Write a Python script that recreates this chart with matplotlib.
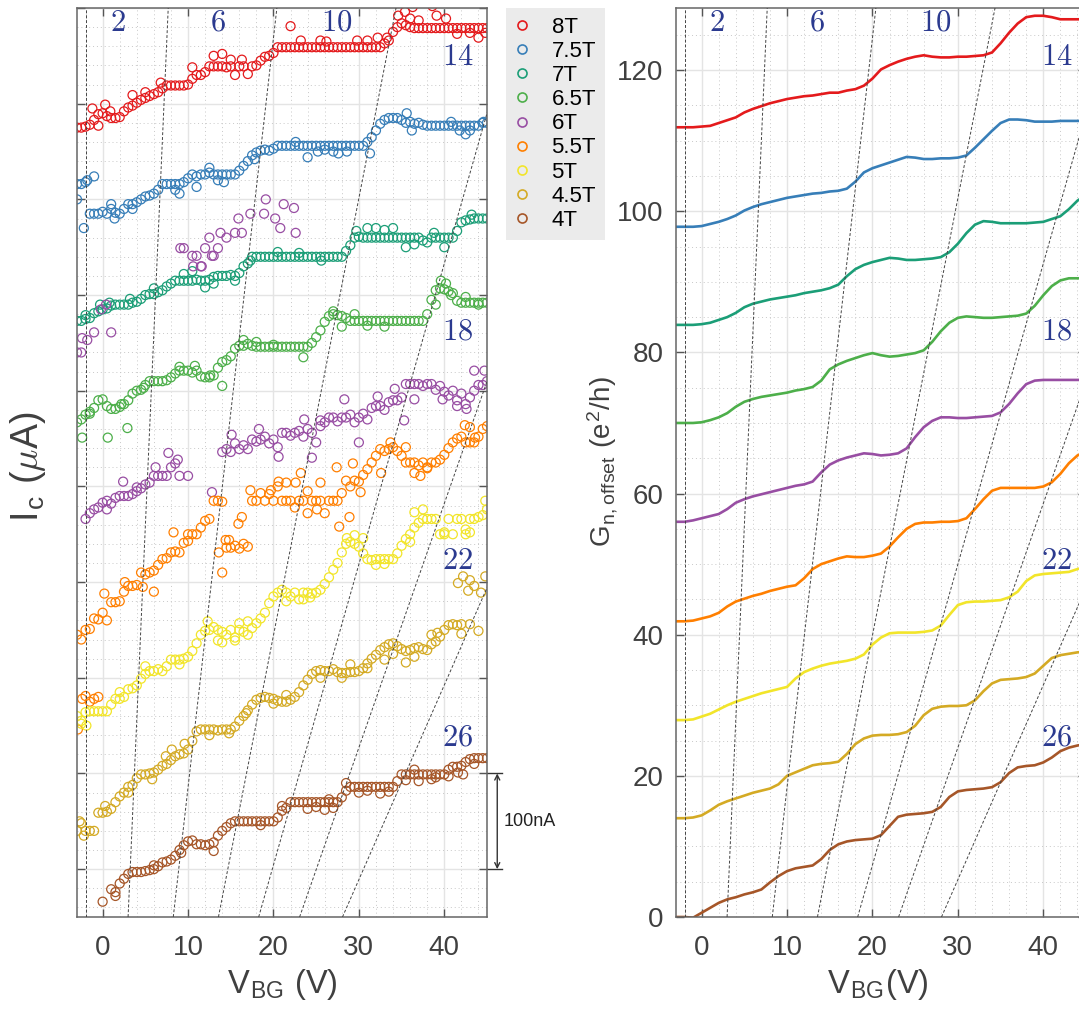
import numpy as np
import matplotlib
matplotlib.use("Agg")
import matplotlib.pyplot as plt
from matplotlib.lines import Line2D
from matplotlib.ticker import MultipleLocator
from matplotlib.transforms import blended_transform_factory

plt.rcParams['font.family'] = ['Liberation Sans', 'DejaVu Sans']
plt.rcParams['mathtext.fontset'] = 'cm'

fields = ['8T', '7.5T', '7T', '6.5T', '6T', '5.5T', '5T', '4.5T', '4T']
colors = ['#e41a1c', '#377eb8', '#1b9e77', '#4daf4a', '#984ea3',
          '#ff7f00', '#f2e52a', '#d4aa24', '#a65628']

# ---- critical current, sampled every 0.5 V from -3 V to 45 V (uA) ----
vbg_ic = np.arange(-3, 45.01, 0.5)
nan = np.nan

ic_8T = [1.775, 1.775, 1.776, 1.778, 1.783, 1.789, 1.790, 1.787, 1.785, 1.785,
         1.786, 1.792, 1.796, 1.798, 1.801, 1.804, 1.806, 1.808, 1.810, 1.812,
         1.816, 1.819, 1.819, 1.819, 1.819, 1.819, 1.820, 1.826, 1.830, 1.830,
         1.833, 1.839, 1.839, 1.839, 1.839, 1.838, 1.839, 1.830, 1.839, 1.839,
         1.831, 1.839, 1.840, 1.845, 1.849, 1.850, 1.853, 1.859, 1.859, 1.859,
         1.859, 1.859, 1.859, 1.859, 1.859, 1.859, 1.859, 1.859, 1.859, 1.859,
         1.859, 1.859, 1.859, 1.859, 1.859, 1.859, 1.859, 1.859, 1.859, 1.859,
         1.859, 1.859, 1.863, 1.866, 1.875, 1.880, 1.884, 1.882, 1.880, 1.879,
         1.879, 1.879, 1.879, 1.879, 1.879, 1.879, 1.879, 1.879, 1.879, 1.879,
         1.879, 1.879, 1.879, 1.879, 1.879, 1.879, 1.879]
ic_7p5T = [1.716, 1.716, 1.718, 1.685, 1.685, 1.685, 1.687, 1.685, 1.690, 1.686,
           1.685, 1.690, 1.695, 1.695, 1.697, 1.700, 1.703, 1.704, 1.706, 1.710,
           1.716, 1.716, 1.716, 1.716, 1.716, 1.718, 1.722, 1.726, 1.724, 1.726,
           1.726, 1.728, 1.726, 1.726, 1.726, 1.726, 1.726, 1.726, 1.730, 1.735,
           1.740, 1.746, 1.749, 1.751, 1.752, 1.751, 1.753, 1.756, 1.756, 1.756,
           1.756, 1.756, 1.756, 1.756, 1.756, 1.756, 1.756, 1.756, 1.756, 1.756,
           1.756, 1.756, 1.756, 1.756, 1.756, 1.756, 1.756, 1.756, 1.760, 1.765,
           1.772, 1.779, 1.783, 1.785, 1.785, 1.785, 1.783, 1.780, 1.781, 1.779,
           1.780, 1.778, 1.777, 1.777, 1.777, 1.777, 1.777, 1.777, 1.777, 1.777,
           1.777, 1.777, 1.777, 1.777, 1.777, 1.780, 1.780]
ic_7T = [1.573, 1.573, 1.575, 1.576, 1.581, 1.583, 1.585, 1.586, 1.589, 1.590,
         1.590, 1.590, 1.590, 1.592, 1.593, 1.596, 1.600, 1.601, 1.601, 1.603,
         1.605, 1.609, 1.612, 1.615, 1.615, 1.615, 1.615, 1.615, 1.616, 1.615,
         1.615, 1.616, 1.619, 1.620, 1.620, 1.620, 1.621, 1.620, 1.623, 1.630,
         1.633, 1.640, 1.640, 1.640, 1.640, 1.640, 1.640, 1.640, 1.640, 1.640,
         1.640, 1.640, 1.640, 1.640, 1.640, 1.640, 1.640, 1.640, 1.640, 1.640,
         1.640, 1.640, 1.640, 1.646, 1.652, 1.660, 1.661, 1.660, 1.660, 1.660,
         1.660, 1.660, 1.660, 1.660, 1.660, 1.660, 1.660, 1.660, 1.660, 1.660,
         1.660, 1.657, 1.655, 1.660, 1.660, 1.660, 1.660, 1.660, 1.660, 1.667,
         1.676, 1.678, 1.679, 1.680, 1.680, 1.680, 1.680]
ic_6p5T = [1.467, 1.470, 1.475, 1.476, 1.482, 1.490, 1.491, 1.484, 1.481, 1.481,
           1.483, 1.486, 1.490, 1.497, 1.500, 1.501, 1.506, 1.510, 1.510, 1.510,
           1.510, 1.511, 1.514, 1.518, 1.521, 1.521, 1.521, 1.519, 1.521, 1.515,
           1.514, 1.514, 1.516, 1.524, 1.530, 1.532, 1.536, 1.544, 1.547, 1.547,
           1.549, 1.547, 1.546, 1.546, 1.546, 1.546, 1.546, 1.546, 1.546, 1.546,
           1.546, 1.546, 1.546, 1.546, 1.546, 1.550, 1.556, 1.563, 1.572, 1.578,
           1.580, 1.579, 1.578, 1.576, 1.573, 1.573, 1.573, 1.573, 1.573, 1.573,
           1.573, 1.573, 1.573, 1.573, 1.573, 1.573, 1.573, 1.573, 1.573, 1.573,
           1.573, 1.573, 1.580, 1.595, 1.605, 1.607, 1.606, 1.604, 1.602, 1.594,
           1.592, 1.592, 1.592, 1.592, 1.592, 1.592, 1.592]
ic_6T = [1.540, 1.540, 1.366, 1.372, 1.376, 1.378, 1.383, 1.385, 1.382, 1.388,
         1.390, 1.390, 1.390, 1.392, 1.395, 1.398, 1.402, 1.404, 1.411, 1.411,
         1.411, 1.411, 1.420, 1.424, 1.411, 1.649, 1.411, 1.641, 1.641, 1.630,
         1.649, 1.660, 1.641, 1.649, 1.436, 1.439, 1.436, 1.445, 1.439, 1.443,
         1.439, 1.449, 1.447, 1.449, 1.452, 1.445, 1.449, 1.441, 1.456, 1.456,
         1.453, 1.456, 1.458, 1.452, 1.460, 1.456, 1.446, 1.463, 1.467, 1.472,
         1.472, 1.468, 1.472, 1.472, 1.475, 1.467, 1.472, 1.476, 1.470, 1.482,
         1.484, 1.484, 1.480, 1.488, 1.490, 1.490, 1.493, 1.507, 1.507, 1.507,
         1.507, 1.505, 1.507, 1.507, 1.501, 1.505, 1.499, 1.495, 1.500, 1.490,
         1.497, 1.486, 1.493, 1.500, 1.506, 1.506, 1.510]
ic_5p5T = [1.245, 1.240, 1.250, 1.251, 1.262, 1.261, 1.268, 1.260, 1.279, 1.279,
           1.280, 1.290, 1.296, 1.296, 1.297, 1.310, 1.308, 1.310, 1.312, 1.318,
           1.324, 1.325, 1.331, 1.332, 1.331, 1.341, 1.350, 1.350, 1.350, 1.357,
           1.364, 1.366, 1.385, 1.385, 1.384, 1.336, 1.336, 1.338, 1.335, 1.340,
           1.337, 1.385, 1.385, 1.393, 1.385, 1.392, 1.385, 1.400, 1.385, 1.385,
           1.385, 1.378, 1.385, 1.385, 1.395, 1.385, 1.385, 1.385, 1.372, 1.385,
           1.385, 1.385, 1.393, 1.406, 1.400, 1.406, 1.405, 1.412, 1.418, 1.425,
           1.432, 1.439, 1.437, 1.439, 1.441, 1.437, 1.432, 1.425, 1.425, 1.425,
           1.422, 1.425, 1.420, 1.425, 1.425, 1.428, 1.433, 1.440, 1.446, 1.450,
           1.452, 1.446, 1.446, 1.446, 1.452, 1.460, 1.463]
ic_5T = [1.160, 1.152, 1.164, 1.165, 1.165, 1.165, 1.165, 1.165, 1.172, 1.178,
         1.178, 1.180, 1.188, 1.189, 1.192, 1.199, 1.204, 1.207, 1.207, 1.209,
         1.207, 1.212, 1.219, 1.219, 1.219, 1.220, 1.222, 1.228, 1.236, 1.245,
         1.249, 1.250, 1.253, 1.250, 1.248, 1.245, 1.250, 1.242, 1.250, 1.248,
         1.245, 1.252, 1.257, 1.262, 1.268, 1.278, 1.285, 1.289, 1.292, 1.289,
         1.285, 1.289, 1.282, 1.289, 1.289, 1.288, 1.289, 1.292, 1.298, 1.305,
         1.313, 1.320, 1.331, 1.340, 1.342, 1.340, 1.337, 1.330, 1.324, 1.323,
         1.324, 1.324, 1.324, 1.324, 1.324, 1.330, 1.338, 1.345, 1.350, 1.357,
         1.362, 1.366, 1.366, 1.366, 1.366, 1.350, 1.350, 1.366, 1.350, 1.366,
         1.366, 1.350, 1.366, 1.366, 1.368, 1.370, 1.376]
ic_4p5T = [1.040, 1.048, 1.040, 1.040, 1.040, 1.059, 1.059, 1.060, 1.063, 1.070,
           1.076, 1.080, 1.080, 1.088, 1.095, 1.099, 1.099, 1.100, 1.101, 1.104,
           1.108, 1.110, 1.114, 1.118, 1.120, 1.121, 1.125, 1.134, 1.144, 1.146,
           1.146, 1.146, 1.146, 1.145, 1.146, 1.146, 1.146, 1.149, 1.155, 1.160,
           1.166, 1.172, 1.177, 1.179, 1.180, 1.179, 1.178, 1.176, 1.175, 1.175,
           1.177, 1.180, 1.185, 1.192, 1.198, 1.204, 1.207, 1.208, 1.207, 1.207,
           1.209, 1.206, 1.205, 1.205, 1.206, 1.206, 1.207, 1.210, 1.215, 1.220,
           1.224, 1.229, 1.232, 1.235, 1.236, 1.233, 1.230, 1.228, 1.229, 1.231,
           1.232, 1.230, 1.229, 1.235, 1.238, 1.243, 1.250, 1.255, 1.256, 1.255,
           1.256, nan, 1.256, nan, 1.249, nan, nan]
ic_4T = [nan, nan, nan, nan, nan, nan, 0.966, nan, 0.979, 0.976,
         0.985, 0.990, 0.995, 0.997, 0.997, 0.997, 0.998, 0.999, 1.000, 1.003,
         1.007, 1.008, 1.010, 1.014, 1.020, 1.025, 1.029, 1.030, 1.026, 1.026,
         1.025, 1.026, 1.028, 1.035, 1.040, 1.044, 1.048, 1.050, 1.050, 1.050,
         1.050, 1.050, 1.050, 1.050, 1.050, 1.050, 1.050, 1.054, 1.061, 1.064,
         1.070, 1.070, 1.070, 1.070, 1.070, 1.070, 1.070, 1.070, 1.070, 1.070,
         1.070, 1.070, 1.075, 1.082, 1.086, 1.086, 1.086, 1.086, 1.086, 1.086,
         1.086, 1.086, 1.086, 1.086, 1.086, 1.092, 1.099, 1.099, 1.099, 1.099,
         1.099, 1.099, 1.099, 1.099, 1.099, 1.099, 1.099, 1.104, 1.107, 1.107,
         1.108, 1.112, 1.115, 1.116, 1.116, 1.116, 1.116]

# scattered points off the main trace
v_x8T = [-1.2, -0.5, 0.3, 0.9, 3.5, 5.0, 6.8, 10.5, 13.0, 14.0, 15.0, 16.3, 22.0, 23.2, 25.5, 26.2,
         29.8, 31.0, 32.2, 33.3, 34.6, 35.4, 36.0, 36.3, 37.0, 38.6, 39.1, 40.2, 41.5, 43.0, 44.0, 44.8]
i_x8T = [1.795, 1.777, 1.799, 1.792, 1.809, 1.812, 1.822, 1.838, 1.850, 1.852, 1.846, 1.846, 1.881,
         1.866, 1.866, 1.865, 1.866, 1.866, 1.869, 1.869, 1.892, 1.896, 1.889, 1.901, 1.887, 1.902,
         1.892, 1.889, 1.873, 1.874, 1.869, 1.874]
v_x7p5T = [-3.0, -2.2, -1.8, -1.0, 1.0, 1.4, 3.5, 8.5, 9.0, 11.0, 12.5, 13.5, 14.2, 17.8, 22.6,
           24.0, 25.2, 26.0, 27.0, 27.6, 28.6, 31.3, 35.6, 36.2, 40.8, 41.8, 42.5, 43.0, 44.6]
i_x7p5T = [1.700, 1.670, 1.720, 1.724, 1.695, 1.680, 1.690, 1.710, 1.706, 1.713, 1.733, 1.720,
           1.718, 1.742, 1.760, 1.744, 1.750, 1.752, 1.750, 1.748, 1.750, 1.748, 1.790, 1.772,
           1.781, 1.772, 1.768, 1.772, 1.781]
v_x7T = [-2.0, -0.3, 0.8, 3.2, 6.0, 9.5, 10.5, 12.0, 13.0, 15.5, 17.3, 20.5, 23.0, 25.6, 29.7,
         31.0, 32.0, 33.0, 34.0, 35.5, 36.5, 38.8, 40.0, 43.2]
i_x7T = [1.579, 1.590, 1.592, 1.596, 1.607, 1.622, 1.625, 1.608, 1.612, 1.615, 1.636, 1.645,
         1.644, 1.636, 1.667, 1.670, 1.670, 1.668, 1.670, 1.650, 1.653, 1.665, 1.650, 1.684]
v_x6p5T = [-2.4, -1.5, 0.6, 2.2, 2.9, 4.8, 9.0, 10.8, 12.6, 14.0, 16.5, 18.0, 20.0, 23.5, 27.0,
           28.0, 29.5, 31.0, 33.0, 39.0, 39.6, 40.2, 40.8, 42.5, 44.0]
i_x6p5T = [1.451, 1.478, 1.451, 1.486, 1.461, 1.503, 1.525, 1.526, 1.516, 1.505, 1.553, 1.551,
           1.548, 1.535, 1.583, 1.567, 1.580, 1.568, 1.567, 1.590, 1.615, 1.612, 1.600, 1.598, 1.590]
v_x6T = [-2.4, -1.8, -1.0, -0.2, 0.4, 1.0, 0.5, 2.4, 4.0, 6.2, 7.7, 8.8, 9.1, 10.6, 11.6, 12.8,
         13.8, 14.5, 15.5, 15.9, 16.3, 17.3, 18.9, 19.1, 20.2, 20.8, 21.2, 22.4, 22.6, 12.8, 15.1,
         18.3, 20.6, 23.6, 24.5, 25.5, 28.3, 30.0, 32.2, 34.2, 35.3, 36.5, 39.8, 41.5, 42.6, 43.5, 44.7]
i_x6T = [1.555, 1.553, 1.561, 1.585, 1.590, 1.561, 1.376, 1.405, 1.399, 1.420, 1.435, 1.428,
         1.649, 1.630, 1.630, 1.641, 1.665, 1.660, 1.665, 1.680, 1.665, 1.685, 1.685, 1.700,
         1.680, 1.670, 1.695, 1.691, 1.665, 1.394, 1.454, 1.460, 1.431, 1.470, 1.430, 1.469,
         1.491, 1.446, 1.494, 1.502, 1.469, 1.491, 1.491, 1.484, 1.481, 1.521, 1.521]
v_x5p5T = [-2.9, -2.4, -2.0, -1.5, -1.0, -0.5, 0.2, 2.6, 4.7, 6.0, 8.3, 10.0, 13.6, 14.0, 14.4,
           14.8, 15.9, 16.3, 17.3, 19.7, 20.6, 21.5, 22.6, 23.2, 24.0, 25.1, 25.5, 27.4, 27.7,
           28.9, 29.3, 30.2, 32.6, 33.7, 35.5, 36.5, 37.2, 38.0, 42.4, 43.0, 43.6]
i_x5p5T = [1.146, 1.178, 1.181, 1.175, 1.178, 1.180, 1.288, 1.300, 1.295, 1.290, 1.352, 1.343,
           1.331, 1.310, 1.344, 1.344, 1.361, 1.368, 1.396, 1.396, 1.405, 1.404, 1.404, 1.414,
           1.372, 1.376, 1.404, 1.420, 1.358, 1.368, 1.424, 1.394, 1.414, 1.446, 1.441, 1.414,
           1.411, 1.419, 1.464, 1.462, 1.451]
v_x5T = [-2.5, -1.9, 2.0, 5.0, 9.0, 12.3, 13.5, 14.0, 15.5, 16.0, 17.0, 21.5, 23.5, 24.3, 28.6,
         29.5, 30.5, 32.0, 33.0, 36.0, 36.5, 37.5, 40.0, 42.5, 43.0, 44.8]
i_x5T = [1.155, 1.150, 1.185, 1.212, 1.214, 1.259, 1.239, 1.237, 1.239, 1.257, 1.259, 1.280,
         1.282, 1.284, 1.346, 1.349, 1.346, 1.318, 1.319, 1.342, 1.373, 1.376, 1.352, 1.355,
         1.352, 1.385]
v_x4p5T = [-2.7, -2.2, 0.3, 3.0, 5.8, 7.4, 8.1, 9.6, 12.5, 14.8, 16.8, 20.0, 21.5, 25.5, 28.0,
           29.0, 31.0, 33.0, 34.0, 35.5, 36.5, 38.5, 39.2, 42.0, 41.6, 42.2, 42.8, 43.0, 43.5,
           44.3, 44.8]
i_x4p5T = [1.050, 1.035, 1.066, 1.086, 1.094, 1.118, 1.125, 1.131, 1.140, 1.142, 1.163, 1.173,
           1.182, 1.200, 1.200, 1.214, 1.210, 1.219, 1.225, 1.216, 1.222, 1.245, 1.247, 1.246,
           1.299, 1.306, 1.291, 1.302, 1.296, 1.289, 1.306]
v_x4T = [1.5, 6.0, 9.2, 13.0, 18.5, 21.0, 24.0, 25.0, 26.0, 26.5, 27.0, 28.5, 30.0, 31.0, 32.5,
         33.5, 35.5, 36.5, 37.0, 38.5, 39.0, 40.5, 41.6, 42.2, 43.5]
i_x4T = [0.972, 1.004, 1.017, 1.019, 1.046, 1.066, 1.063, 1.065, 1.062, 1.073, 1.064, 1.090,
         1.080, 1.082, 1.079, 1.081, 1.093, 1.104, 1.092, 1.094, 1.096, 1.097, 1.101, 1.099, 1.110]

# ---- normal-state conductance with offsets, every 1 V (e^2/h) ----
vbg_g = np.arange(-3, 46, 1)
g_8T = [111.9, 111.9, 111.9, 112.0, 112.1, 112.5, 112.9, 113.3, 114.0, 114.5,
        114.9, 115.3, 115.6, 115.9, 116.1, 116.3, 116.4, 116.6, 116.8, 116.8,
        117.1, 117.3, 117.8, 118.8, 120.1, 120.7, 121.2, 121.6, 121.9, 122.1,
        121.9, 121.8, 121.8, 121.9, 121.9, 122.0, 122.1, 122.5, 123.8, 125.3,
        126.6, 127.5, 127.7, 127.7, 127.5, 127.2, 127.2, 127.2, 127.2]
g_7p5T = [97.8, 97.8, 97.8, 97.9, 98.2, 98.5, 98.9, 99.4, 100.1, 100.6,
          101.0, 101.3, 101.6, 101.9, 102.1, 102.3, 102.5, 102.6, 102.8, 102.9,
          103.2, 104.2, 105.5, 106.1, 106.5, 106.9, 107.3, 107.7, 107.6, 107.4,
          107.4, 107.5, 107.5, 107.6, 107.9, 109.0, 110.2, 111.4, 112.5, 113.0,
          113.0, 112.9, 112.7, 112.7, 112.7, 112.8, 112.8, 112.8, 112.8]
g_7T = [83.9, 83.9, 83.9, 84.0, 84.2, 84.6, 85.0, 85.6, 86.4, 86.9,
        87.2, 87.5, 87.7, 87.9, 88.1, 88.4, 88.6, 88.8, 89.1, 89.6,
        90.8, 91.8, 92.4, 92.8, 93.1, 93.4, 93.3, 93.1, 93.1, 93.2,
        93.3, 93.5, 94.2, 95.4, 96.9, 98.1, 98.6, 98.5, 98.3, 98.3,
        98.3, 98.3, 98.4, 98.5, 98.9, 99.3, 100.3, 101.5, 102.3]
g_6p5T = [70.0, 70.0, 70.0, 70.1, 70.4, 70.8, 71.4, 72.3, 73.0, 73.4,
          73.7, 73.9, 74.1, 74.3, 74.6, 74.8, 75.1, 76.0, 77.6, 78.3,
          78.8, 79.2, 79.6, 79.9, 79.6, 79.4, 79.5, 79.7, 79.9, 80.3,
          81.5, 83.0, 84.2, 84.9, 85.1, 85.0, 84.9, 84.9, 85.0, 85.1,
          85.2, 85.5, 86.6, 88.1, 89.4, 90.2, 90.5, 90.5, 90.5]
g_6T = [56.0, 56.0, 56.2, 56.5, 56.8, 57.1, 57.8, 58.7, 59.2, 59.6,
        59.9, 60.2, 60.5, 60.8, 61.1, 61.3, 61.7, 63.0, 64.1, 64.7,
        65.1, 65.4, 65.7, 65.6, 65.4, 65.5, 65.7, 66.4, 68.0, 69.4,
        70.3, 70.8, 70.8, 70.7, 70.7, 70.8, 70.9, 71.0, 71.5, 72.7,
        74.2, 75.5, 76.0, 76.1, 76.1, 76.1, 76.1, 76.1, 76.1]
g_5p5T = [41.9, 41.9, 42.0, 42.3, 42.6, 43.1, 44.0, 44.7, 45.1, 45.5,
          45.8, 46.2, 46.5, 46.8, 47.0, 48.0, 49.3, 50.0, 50.4, 50.8,
          51.1, 51.0, 51.0, 51.2, 51.5, 52.5, 53.8, 55.0, 55.7, 55.9,
          55.9, 56.0, 56.0, 56.1, 56.5, 57.8, 59.2, 60.4, 60.8, 60.8,
          60.8, 60.8, 60.8, 61.0, 61.6, 62.8, 64.3, 65.4, 66.0]
g_5T = [27.9, 27.9, 28.0, 28.4, 28.8, 29.4, 30.0, 30.5, 30.9, 31.3,
        31.7, 32.0, 32.3, 32.6, 33.8, 34.7, 35.2, 35.6, 35.9, 36.1,
        36.3, 36.6, 37.2, 38.6, 39.6, 40.2, 40.3, 40.3, 40.3, 40.4,
        40.6, 41.3, 42.8, 44.2, 44.6, 44.7, 44.7, 44.8, 44.9, 45.3,
        46.1, 47.6, 48.4, 48.6, 48.7, 48.8, 48.9, 49.3, 49.6]
g_4p5T = [14.0, 14.0, 14.1, 14.4, 15.1, 15.9, 16.4, 16.8, 17.2, 17.6,
          17.9, 18.2, 18.8, 20.0, 20.5, 21.0, 21.5, 21.7, 21.8, 22.0,
          23.1, 24.5, 25.3, 25.7, 25.8, 25.8, 25.9, 26.2, 27.1, 28.6,
          29.5, 29.8, 29.9, 29.9, 30.0, 30.7, 32.0, 33.1, 33.6, 33.7,
          33.8, 34.0, 34.5, 35.6, 36.7, 37.1, 37.3, 37.5, 37.6]
g_4T = [0.0, 0.0, -0.1, 0.6, 1.3, 2.0, 2.5, 2.8, 3.2, 3.5,
        3.9, 4.9, 5.8, 6.5, 6.9, 7.1, 7.3, 8.2, 9.5, 10.3,
        10.7, 10.9, 11.0, 11.1, 11.6, 12.9, 14.2, 14.5, 14.6, 14.7,
        14.9, 15.6, 17.0, 17.8, 18.0, 18.1, 18.2, 18.4, 19.1, 20.4,
        21.2, 21.4, 21.5, 21.9, 22.6, 23.5, 24.0, 24.3, 24.5]

# Landau fan guide lines: gate voltage at bottom and top of the panels
fan_nu = ['2', '6', '10', '14', '18', '22', '26']
fan_v_bottom = [-1.95, 2.98, 8.27, 13.56, 18.27, 23.06, 28.08]
fan_v_top = [-1.95, 7.68, 20.4, 34.35, 48.5, 60.3, 74.8]

ic_main = [ic_8T, ic_7p5T, ic_7T, ic_6p5T, ic_6T, ic_5p5T, ic_5T, ic_4p5T, ic_4T]
ic_extra = [(v_x8T, i_x8T), (v_x7p5T, i_x7p5T), (v_x7T, i_x7T), (v_x6p5T, i_x6p5T),
            (v_x6T, i_x6T), (v_x5p5T, i_x5p5T), (v_x5T, i_x5T), (v_x4p5T, i_x4p5T),
            (v_x4T, i_x4T)]
g_curves = [g_8T, g_7p5T, g_7T, g_6p5T, g_6T, g_5p5T, g_5T, g_4p5T, g_4T]

W, H = 1079, 1015
fig = plt.figure(figsize=(W / 100, H / 100), dpi=100)
axL = fig.add_axes([77 / W, 98 / H, 410 / W, 909 / H])
axR = fig.add_axes([676 / W, 98 / H, 410 / W, 909 / H])

txt = '#404040'
for ax in (axL, axR):
    ax.set_xlim(-3, 45)
    ax.xaxis.set_major_locator(MultipleLocator(10))
    ax.xaxis.set_minor_locator(MultipleLocator(2))
    ax.grid(which='major', color='#e4e4e4', lw=1.0)
    ax.grid(which='minor', color='#c8c8c8', lw=0.7, ls=(0, (1, 3)))
    ax.set_axisbelow(True)
    ax.tick_params(which='major', direction='in', length=6, width=1,
                   top=True, right=True, color='#555555', labelcolor=txt,
                   labelsize=20)
    ax.tick_params(axis='x', which='major', pad=13)
    ax.tick_params(axis='y', which='major', pad=9)
    ax.tick_params(which='minor', length=0)
    for s in ax.spines.values():
        s.set_color('#666666')
        s.set_linewidth(1.1)

axL.set_ylim(0.95, 1.9)
axL.yaxis.set_major_locator(MultipleLocator(0.1))
axL.yaxis.set_minor_locator(MultipleLocator(0.02))
axL.tick_params(axis='y', labelleft=False)

axR.set_ylim(0, 128.8)
axR.yaxis.set_major_locator(MultipleLocator(20))
axR.yaxis.set_minor_locator(MultipleLocator(5))

# fan lines and filling factor labels in both panels
label_v = [1.8, 13.5, 27.4, 41.6, 41.6, 41.6, 41.6]
label_y = [0.984, 0.984, 0.984, 0.946, 0.644, 0.392, 0.197]
for ax in (axL, axR):
    tr = blended_transform_factory(ax.transData, ax.transAxes)
    for vb, vt in zip(fan_v_bottom, fan_v_top):
        ax.plot([vb, vt], [0, 1], transform=tr, color='#444444', lw=0.7,
                ls=(0, (3, 2)), zorder=3)
    for nu, lv, ly in zip(fan_nu, label_v, label_y):
        ax.text(lv, ly, '$%s$' % nu, transform=tr, ha='center', va='center',
                fontsize=22, color='#2b3a8f', zorder=5)

# critical current scatter
for name, c, ic, (xv, xi) in zip(fields, colors, ic_main, ic_extra):
    axL.scatter(vbg_ic, ic, s=42, facecolors='none', edgecolors=c, linewidths=0.9, zorder=2)
    axL.scatter(xv, xi, s=42, facecolors='none', edgecolors=c, linewidths=0.9, zorder=2)

# conductance curves
for c, g in zip(colors, g_curves):
    axR.plot(vbg_g, g, color=c, lw=1.9, zorder=2, solid_joinstyle='round')

# 100 nA scale bar next to the left panel
sb_x = 46.2
axL.annotate('', xy=(sb_x, 1.0), xytext=(sb_x, 1.1), annotation_clip=False,
             arrowprops=dict(arrowstyle='<->', lw=1.0, color='#333333',
                             shrinkA=0, shrinkB=0, mutation_scale=9))
for yb in (1.0, 1.1):
    axL.plot([45.0, 46.8], [yb, yb], color='#333333', lw=1.0, clip_on=False)
axL.text(47.0, 1.05, '100nA', fontsize=13, color='#222222', va='center', ha='left')

# legend
handles = [Line2D([], [], ls='none', marker='o', markersize=6.5, mfc='none',
                  mec=c, mew=1.2) for c in colors]
fig.legend(handles, fields, loc='upper left', bbox_to_anchor=(506 / W, 1 - 8 / H),
           frameon=True, fancybox=False, facecolor='#ebebeb', edgecolor='none',
           framealpha=1, fontsize=16, handlelength=0.6, handletextpad=1.05,
           labelspacing=0.14, borderpad=0.4, borderaxespad=0)

# axis labels
fig.text(28 / W, 1 - 467 / H, r'I$_{\mathregular{c}}$ ($\mu$A)', rotation=90,
         ha='center', va='center', fontsize=27, color=txt)
fig.text(282 / W, 1 - 993 / H, r'V$_{\mathregular{BG}}$ (V)', ha='center',
         va='baseline', fontsize=23.5, color=txt)
fig.text(603 / W, 1 - 462 / H, r'G$_{\mathregular{n,offset}}$ (e$^{\mathregular{2}}$/h)',
         rotation=90, ha='center', va='center', fontsize=20, color=txt)
fig.text(878 / W, 1 - 993 / H, r'V$_{\mathregular{BG}}$(V)', ha='center',
         va='baseline', fontsize=23.5, color=txt)

fig.savefig('out.png', dpi=100)
